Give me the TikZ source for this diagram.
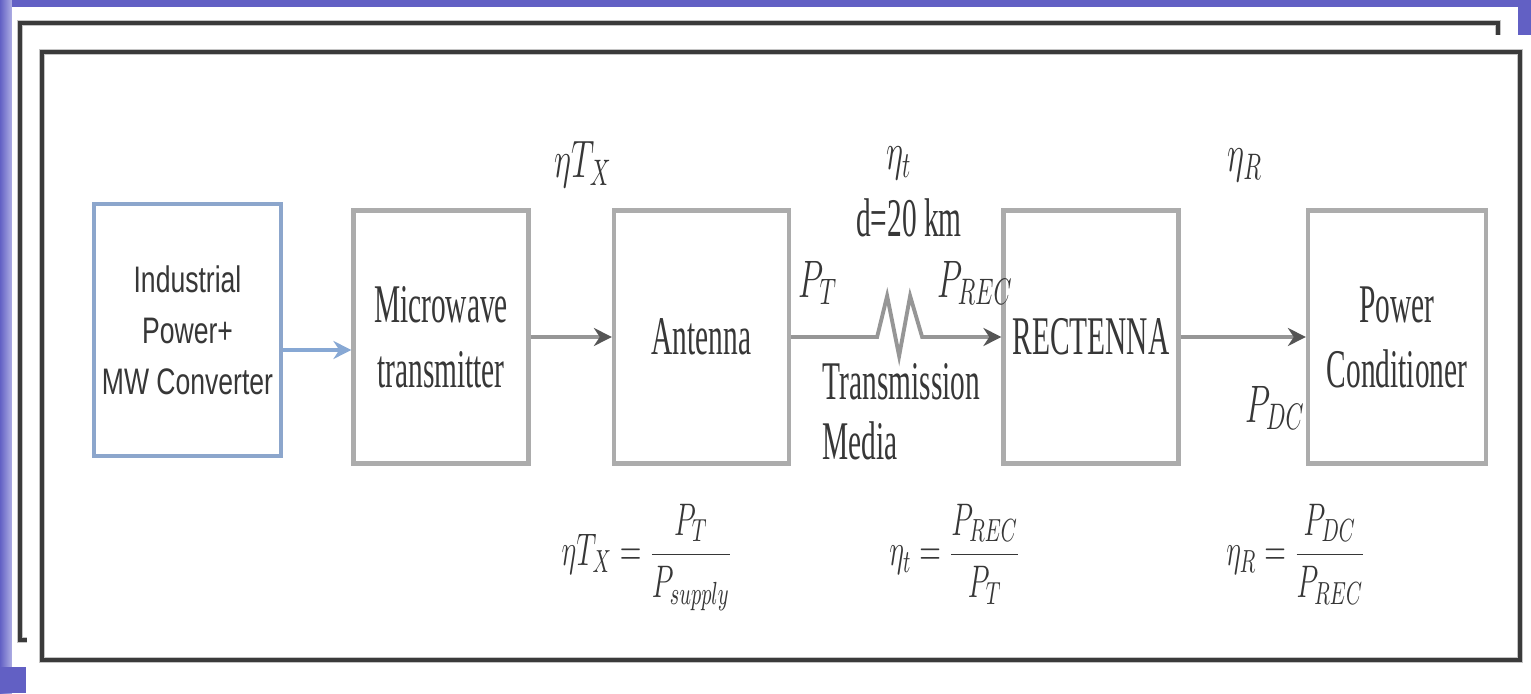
\RequirePackage{fix-cm}
\documentclass[tikz,border=0pt]{standalone}
\usepackage{xcolor}
\usepackage{amsmath}
\usepackage{graphicx}
\usepackage{fontspec}
\usepackage{tikz}
\usetikzlibrary{arrows.meta, positioning, calc}
\setmainfont{Liberation Serif}[FakeStretch=0.54]
\newfontfamily\convfont{Liberation Sans}[FakeStretch=0.72]
\newcommand{\narrowmath}[1]{\scalebox{0.62}[1]{#1}}
\definecolor{slideblue}{RGB}{98,96,196}
\definecolor{slidelight}{RGB}{175,175,228}
\definecolor{framedark}{RGB}{58,58,58}
\definecolor{frameshade}{RGB}{196,196,196}
\definecolor{boxgray}{RGB}{172,172,172}
\definecolor{boxblue}{RGB}{140,166,204}
\definecolor{txtgray}{RGB}{55,55,55}
\definecolor{arrgray}{RGB}{150,150,150}
\definecolor{arrblue}{RGB}{135,168,212}
\definecolor{tipdark}{RGB}{85,85,85}
\tikzset{
  block/.style={rectangle, draw=boxgray, fill=white,
    minimum width=1.75cm, minimum height=2.53cm, inner sep=0pt,
    align=center, text=txtgray, font=\fontsize{15.5}{18.5}\selectfont, line width=1.2pt},
  blueblock/.style={block, draw=boxblue, minimum width=1.87cm, minimum height=2.52cm,
    font=\convfont\fontsize{10.5}{14.5}\selectfont},
  arrow/.style={-{Stealth[length=1.8mm, width=1.8mm, color=tipdark]}, line width=1.1pt, color=arrgray},
  bluearrow/.style={-{Stealth[length=1.8mm, width=1.8mm]}, line width=1.1pt, color=arrblue},
  symb/.style={text=txtgray, inner sep=0pt, font=\fontsize{15}{17}\selectfont},
  eqn/.style={text=txtgray, inner sep=0pt, anchor=base, font=\fontsize{13}{15}\selectfont},
  note/.style={text=txtgray, inner sep=0pt, font=\fontsize{15.5}{17}\selectfont},
  frameline/.style={line width=0.9pt, draw=framedark},
  frameglow/.style={line width=1.8pt, draw=frameshade}
}

\begin{document}
\begin{tikzpicture}
  \useasboundingbox (0,0) rectangle (15.31,6.93);
  % Slide background
  \fill[white] (0,0) rectangle (15.31,6.93);
  \fill[slideblue] (0,6.86) rectangle (15.31,6.93);
  \shade[left color=slideblue, right color=slidelight] (0,0) rectangle (0.12,6.93);
  \fill[slideblue] (0,0) rectangle (0.26,0.26);
  \fill[slideblue] (15.18,6.58) rectangle (15.31,6.93);
  % Back frame
  \draw[frameglow] (0.27,0.53) -- (0.20,0.53) -- (0.20,6.70) -- (14.98,6.70) -- (14.98,6.58);
  \draw[frameline] (0.27,0.53) -- (0.20,0.53) -- (0.20,6.70) -- (14.98,6.70) -- (14.98,6.58);
  % Front frame
  \draw[frameglow] (0.42,0.33) rectangle (15.20,6.41);
  \draw[frameline] (0.42,0.33) rectangle (15.20,6.41);

  % Blocks
  \node[blueblock] (conv) at (1.875,3.63) {Industrial\\Power+\\MW Converter};
  \node[block] (mwtx) at (4.41,3.56) {Microwave\\transmitter};
  \node[block] (ant) at (7.015,3.56) {Antenna};
  \node[block] (rect) at (10.91,3.56) {RECTENNA};
  \node[block, minimum width=1.78cm] (pcond) at (13.97,3.56) {Power\\Conditioner};

  % Connectors
  \coordinate (cvout) at ([yshift=-2mm]conv.east);
  \draw[bluearrow] (cvout) -- (cvout -| mwtx.west);
  \draw[arrow] (mwtx) -- (ant);
  \draw[arrow] (ant.east) -- ++(0.86,0) -- ++(0.10,0.41) -- ++(0.12,-0.60)
    -- ++(0.11,0.60) -- ++(0.12,-0.41) -- (rect.west);
  \draw[arrow] (rect) -- (pcond);

  % Efficiency and power labels
  \node[symb] (etatx) at (5.83,5.28) {\narrowmath{$\eta T_X$}};
  \node[symb] (etat) at (8.99,5.30) {\narrowmath{$\eta_t$}};
  \node[note] (dist) at (9.09,4.75) {d=20 km};
  \node[symb] (etar) at (12.45,5.28) {\narrowmath{$\eta_R$}};
  \node[symb] (pt) at (8.18,4.10) {\narrowmath{$P_T$}};
  \node[symb] (prec) at (9.75,4.10) {\narrowmath{$P_{REC}$}};
  \node[symb] (pdc) at (12.75,2.85) {\narrowmath{$P_{DC}$}};
  \node[note, align=left, anchor=north west] (media) at (8.22,3.30) {Transmission\\Media};

  % Efficiency definitions
  \node[eqn] (eqtx) at (6.47,1.27) {\narrowmath{$\eta T_X = \dfrac{P_T}{P_{supply}}$}};
  \node[eqn] (eqt) at (9.55,1.27) {\narrowmath{$\eta_t = \dfrac{P_{REC}}{P_T}$}};
  \node[eqn] (eqr) at (12.96,1.27) {\narrowmath{$\eta_R = \dfrac{P_{DC}}{P_{REC}}$}};
\end{tikzpicture}
\end{document}
